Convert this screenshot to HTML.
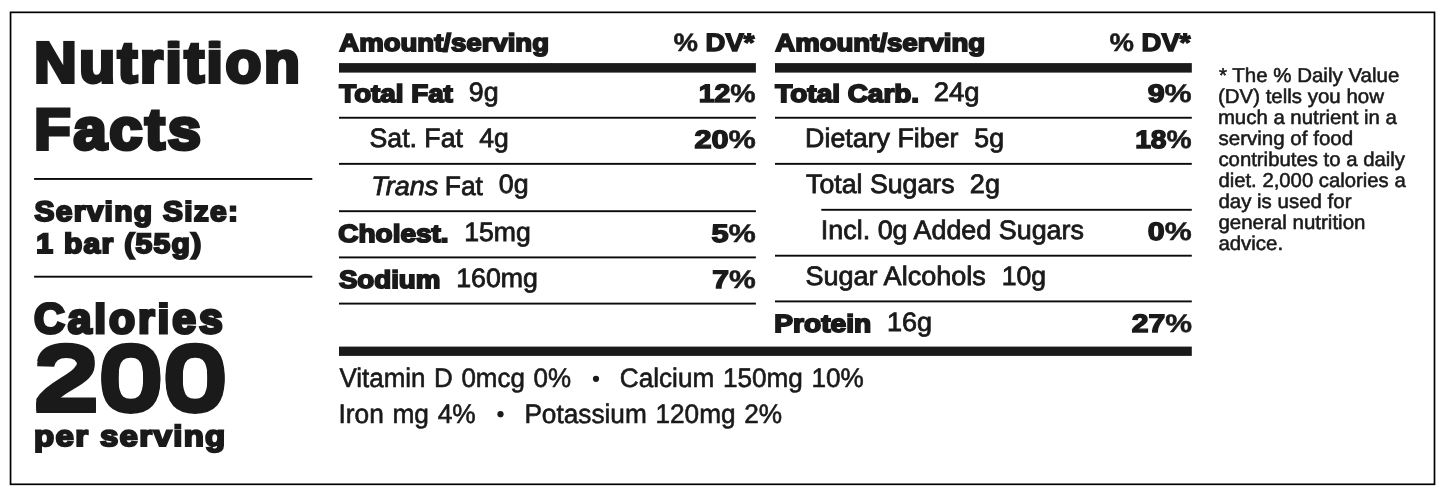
<!DOCTYPE html>
<html><head><meta charset="utf-8"><title>Nutrition Facts</title>
<style>
html,body{margin:0;padding:0;background:#fff}
body{width:1445px;height:496px;position:relative;overflow:hidden;font-family:"Liberation Sans",sans-serif;color:#1a1a1a}
#wrap{position:absolute;left:0;top:0;width:1445px;height:496px;will-change:transform}
.t{position:absolute;left:0;top:0;white-space:pre;line-height:1;transform-origin:0 0;font-family:"Liberation Sans",sans-serif;color:#1a1a1a;text-rendering:geometricPrecision}
svg{position:absolute;left:0;top:0}
.p{-webkit-text-stroke-width:0.5px}
</style></head><body>
<svg width="1445" height="496" viewBox="0 0 1445 496">
<rect x="10.55" y="12.35" width="1423.95" height="471.95" fill="none" stroke="#000" stroke-width="1.7"/>
<rect x="34.10" y="178.00" width="278.20" height="1.90" fill="#0a0a0a"/>
<rect x="34.10" y="275.75" width="278.20" height="1.90" fill="#0a0a0a"/>
<rect x="339.00" y="63.10" width="416.90" height="9.50" fill="#1a1a1a"/>
<rect x="775.00" y="63.10" width="416.80" height="9.50" fill="#1a1a1a"/>
<rect x="339.00" y="346.60" width="852.80" height="9.30" fill="#1a1a1a"/>
<rect x="339.00" y="116.80" width="416.90" height="1.90" fill="#0a0a0a"/>
<rect x="339.00" y="162.90" width="416.90" height="1.90" fill="#0a0a0a"/>
<rect x="339.00" y="210.25" width="416.90" height="1.90" fill="#0a0a0a"/>
<rect x="339.00" y="256.45" width="416.90" height="1.90" fill="#0a0a0a"/>
<rect x="339.00" y="302.65" width="416.90" height="1.90" fill="#0a0a0a"/>
<rect x="775.00" y="116.80" width="416.80" height="1.90" fill="#0a0a0a"/>
<rect x="775.00" y="162.90" width="416.80" height="1.90" fill="#0a0a0a"/>
<rect x="775.00" y="254.75" width="416.80" height="1.90" fill="#0a0a0a"/>
<rect x="775.00" y="300.45" width="416.80" height="1.90" fill="#0a0a0a"/>
<rect x="821.30" y="208.85" width="370.50" height="1.90" fill="#0a0a0a"/>
<circle cx="596.0" cy="378.8" r="3.1" fill="#1a1a1a"/>
<circle cx="500.5" cy="414.2" r="3.1" fill="#1a1a1a"/>
</svg>
<div id="wrap">
<div class=t style="clip-path:inset(5.75px -99px -99px -99px);font-size:57.35px;font-weight:bold;-webkit-text-stroke:3.8px #1a1a1a;text-shadow:0 0.4px 0 #1a1a1a,0 -0.4px 0 #1a1a1a;letter-spacing:2.6px;transform:translate(34.29px,35.00px) scale(1.0227,1.0000)">Nutrition</div>
<div class=t style="font-size:57.46px;font-weight:bold;-webkit-text-stroke:3.8px #1a1a1a;text-shadow:0 0.4px 0 #1a1a1a,0 -0.4px 0 #1a1a1a;letter-spacing:2.6px;transform:translate(34.37px,102.00px) scale(1.0369,1.0000)">Facts</div>
<div class=t style="clip-path:inset(2.01px -99px -99px -99px);font-size:28.39px;font-weight:bold;-webkit-text-stroke:2.1px #1a1a1a;letter-spacing:1.2px;transform:translate(34.57px,198.00px) scale(1.0561,1.0000)">Serving Size:</div>
<div class=t style="font-size:27.76px;font-weight:bold;-webkit-text-stroke:2.1px #1a1a1a;letter-spacing:1.2px;transform:translate(36.23px,230.00px) scale(1.0834,1.0000)">1 bar (55g)</div>
<div class=t style="clip-path:inset(3.97px -99px -99px -99px);font-size:42.41px;font-weight:bold;-webkit-text-stroke:3.1px #1a1a1a;letter-spacing:2.9px;transform:translate(33.94px,298.00px) scale(1.0056,1.0000)">Calories</div>
<div class=t style="font-size:93.39px;font-weight:bold;text-shadow:0 2.5px 0 #1a1a1a,0 -2.5px 0 #1a1a1a;letter-spacing:-3.4px;transform:translate(31.96px,331.50px) scale(1.3275,1.0000)">200</div>
<div class=t style="font-size:29.10px;font-weight:bold;-webkit-text-stroke:2.1px #1a1a1a;letter-spacing:1.2px;transform:translate(34.03px,423.00px) scale(1.1325,1.0000)">per serving</div>
<div class=t style="font-size:24.62px;font-weight:bold;-webkit-text-stroke:1.75px #1a1a1a;transform:translate(339.31px,32.00px) scale(1.1195,1.0000)">Amount/serving</div>
<div class=t style="font-size:25.14px;font-weight:bold;-webkit-text-stroke:1.4px #1a1a1a;transform:translate(673.47px,31.00px) scale(1.0936,1.0000)"><span class=p>%</span> DV*</div>
<div class=t style="font-size:24.81px;font-weight:bold;-webkit-text-stroke:1.75px #1a1a1a;transform:translate(339.27px,82.75px) scale(1.1189,1.0000)">Total Fat</div>
<div class=t style="font-size:26.69px;-webkit-text-stroke:0.8px #1a1a1a;transform:translate(468.73px,79.00px) scale(1.0051,1.0000)">9g</div>
<div class=t style="font-size:25.32px;font-weight:bold;-webkit-text-stroke:1.4px #1a1a1a;transform:translate(698.71px,82.00px) scale(1.1240,1.0000)">12<span class=p>%</span></div>
<div class=t style="font-size:26.69px;-webkit-text-stroke:0.8px #1a1a1a;transform:translate(369.53px,125.00px) scale(0.9987,1.0000)">Sat. Fat</div>
<div class=t style="font-size:26.69px;-webkit-text-stroke:0.8px #1a1a1a;transform:translate(479.26px,125.00px) scale(0.9940,1.0000)">4g</div>
<div class=t style="font-size:25.32px;font-weight:bold;-webkit-text-stroke:1.4px #1a1a1a;transform:translate(694.44px,128.00px) scale(1.2132,1.0000)">20<span class=p>%</span></div>
<div class=t style="font-size:26.69px;font-style:italic;-webkit-text-stroke:0.8px #1a1a1a;transform:translate(371.32px,172.50px) scale(1.0111,1.0000)">Trans</div>
<div class=t style="font-size:26.69px;-webkit-text-stroke:0.8px #1a1a1a;transform:translate(444.75px,172.50px) scale(0.9899,1.0000)">Fat</div>
<div class=t style="font-size:26.69px;-webkit-text-stroke:0.8px #1a1a1a;transform:translate(498.82px,171.00px) scale(1.0040,1.0000)">0g</div>
<div class=t style="font-size:24.81px;font-weight:bold;-webkit-text-stroke:1.75px #1a1a1a;transform:translate(338.33px,222.75px) scale(1.1268,1.0000)">Cholest.</div>
<div class=t style="font-size:26.69px;-webkit-text-stroke:0.8px #1a1a1a;transform:translate(464.15px,218.50px) scale(0.9985,1.0000)">15mg</div>
<div class=t style="font-size:25.32px;font-weight:bold;-webkit-text-stroke:1.4px #1a1a1a;transform:translate(711.45px,222.00px) scale(1.2122,1.0000)">5<span class=p>%</span></div>
<div class=t style="font-size:24.81px;font-weight:bold;-webkit-text-stroke:1.75px #1a1a1a;transform:translate(338.88px,268.75px) scale(1.1166,1.0000)">Sodium</div>
<div class=t style="font-size:26.69px;-webkit-text-stroke:0.8px #1a1a1a;transform:translate(456.20px,264.50px) scale(1.0022,1.0000)">160mg</div>
<div class=t style="font-size:25.32px;font-weight:bold;-webkit-text-stroke:1.4px #1a1a1a;transform:translate(712.15px,268.00px) scale(1.1894,1.0000)">7<span class=p>%</span></div>
<div class=t style="font-size:24.62px;font-weight:bold;-webkit-text-stroke:1.75px #1a1a1a;transform:translate(775.31px,32.00px) scale(1.1197,1.0000)">Amount/serving</div>
<div class=t style="font-size:25.14px;font-weight:bold;-webkit-text-stroke:1.4px #1a1a1a;transform:translate(1109.47px,31.00px) scale(1.0936,1.0000)"><span class=p>%</span> DV*</div>
<div class=t style="font-size:24.81px;font-weight:bold;-webkit-text-stroke:1.75px #1a1a1a;transform:translate(775.29px,82.75px) scale(1.1265,1.0000)">Total Carb.</div>
<div class=t style="font-size:26.69px;-webkit-text-stroke:0.8px #1a1a1a;transform:translate(933.70px,79.00px) scale(1.0305,1.0000)">24g</div>
<div class=t style="font-size:25.32px;font-weight:bold;-webkit-text-stroke:1.4px #1a1a1a;transform:translate(1147.63px,82.00px) scale(1.2027,1.0000)">9<span class=p>%</span></div>
<div class=t style="font-size:26.69px;-webkit-text-stroke:0.8px #1a1a1a;transform:translate(805.08px,125.00px) scale(1.0046,1.0000)">Dietary Fiber</div>
<div class=t style="font-size:26.69px;-webkit-text-stroke:0.8px #1a1a1a;transform:translate(974.31px,125.00px) scale(1.0012,1.0000)">5g</div>
<div class=t style="font-size:25.32px;font-weight:bold;-webkit-text-stroke:1.4px #1a1a1a;transform:translate(1135.16px,128.00px) scale(1.1160,1.0000)">18<span class=p>%</span></div>
<div class=t style="font-size:26.69px;-webkit-text-stroke:0.8px #1a1a1a;transform:translate(806.07px,170.50px) scale(1.0013,1.0000)">Total Sugars</div>
<div class=t style="font-size:26.69px;-webkit-text-stroke:0.8px #1a1a1a;transform:translate(969.84px,171.00px) scale(1.0151,1.0000)">2g</div>
<div class=t style="font-size:26.69px;-webkit-text-stroke:0.8px #1a1a1a;transform:translate(820.85px,217.00px) scale(1.0075,1.0000)">Incl. 0g Added Sugars</div>
<div class=t style="font-size:25.32px;font-weight:bold;-webkit-text-stroke:1.4px #1a1a1a;transform:translate(1147.81px,220.00px) scale(1.1982,1.0000)">0<span class=p>%</span></div>
<div class=t style="font-size:26.69px;-webkit-text-stroke:0.8px #1a1a1a;transform:translate(805.38px,262.50px) scale(1.0138,1.0000)">Sugar Alcohols</div>
<div class=t style="font-size:26.69px;-webkit-text-stroke:0.8px #1a1a1a;transform:translate(1001.74px,263.00px) scale(0.9974,1.0000)">10g</div>
<div class=t style="font-size:24.81px;font-weight:bold;-webkit-text-stroke:1.75px #1a1a1a;transform:translate(774.35px,312.75px) scale(1.1326,1.0000)">Protein</div>
<div class=t style="font-size:26.69px;-webkit-text-stroke:0.8px #1a1a1a;transform:translate(886.94px,308.50px) scale(1.0138,1.0000)">16g</div>
<div class=t style="font-size:25.32px;font-weight:bold;-webkit-text-stroke:1.4px #1a1a1a;transform:translate(1131.67px,312.00px) scale(1.1892,1.0000)">27<span class=p>%</span></div>
<div class=t style="font-size:26.78px;-webkit-text-stroke:0.6px #1a1a1a;word-spacing:1.4px;transform:translate(339.47px,365.00px) scale(0.9697,1.0000)">Vitamin D 0mcg 0%</div>
<div class=t style="font-size:26.78px;-webkit-text-stroke:0.6px #1a1a1a;word-spacing:1.4px;transform:translate(619.77px,365.00px) scale(0.9774,1.0000)">Calcium 150mg 10%</div>
<div class=t style="font-size:26.78px;-webkit-text-stroke:0.6px #1a1a1a;word-spacing:1.4px;transform:translate(338.47px,401.00px) scale(0.9824,1.0000)">Iron mg 4%</div>
<div class=t style="font-size:26.78px;-webkit-text-stroke:0.6px #1a1a1a;word-spacing:1.4px;transform:translate(524.38px,401.00px) scale(0.9794,1.0000)">Potassium 120mg 2%</div>
<div class=t style="font-size:19.99px;-webkit-text-stroke:0.55px #1a1a1a;transform:translate(1218.96px,66.00px) scale(1.0252,1.0000)">* The % Daily Value</div>
<div class=t style="font-size:19.99px;-webkit-text-stroke:0.55px #1a1a1a;transform:translate(1217.97px,87.00px) scale(1.0234,1.0000)">(DV) tells you how</div>
<div class=t style="font-size:19.99px;-webkit-text-stroke:0.55px #1a1a1a;transform:translate(1217.90px,108.00px) scale(1.0194,1.0000)">much a nutrient in a</div>
<div class=t style="font-size:19.99px;-webkit-text-stroke:0.55px #1a1a1a;transform:translate(1218.51px,129.00px) scale(1.0270,1.0000)">serving of food</div>
<div class=t style="font-size:19.99px;-webkit-text-stroke:0.55px #1a1a1a;transform:translate(1218.39px,150.00px) scale(1.0181,1.0000)">contributes to a daily</div>
<div class=t style="font-size:19.99px;-webkit-text-stroke:0.55px #1a1a1a;transform:translate(1218.40px,171.00px) scale(1.0155,1.0000)">diet. 2,000 calories a</div>
<div class=t style="font-size:19.99px;-webkit-text-stroke:0.55px #1a1a1a;transform:translate(1218.39px,192.00px) scale(1.0238,1.0000)">day is used for</div>
<div class=t style="font-size:19.99px;-webkit-text-stroke:0.55px #1a1a1a;transform:translate(1218.38px,213.00px) scale(1.0263,1.0000)">general nutrition</div>
<div class=t style="font-size:19.99px;-webkit-text-stroke:0.55px #1a1a1a;transform:translate(1218.39px,234.00px) scale(1.0216,1.0000)">advice.</div>
</div>
</body></html>
